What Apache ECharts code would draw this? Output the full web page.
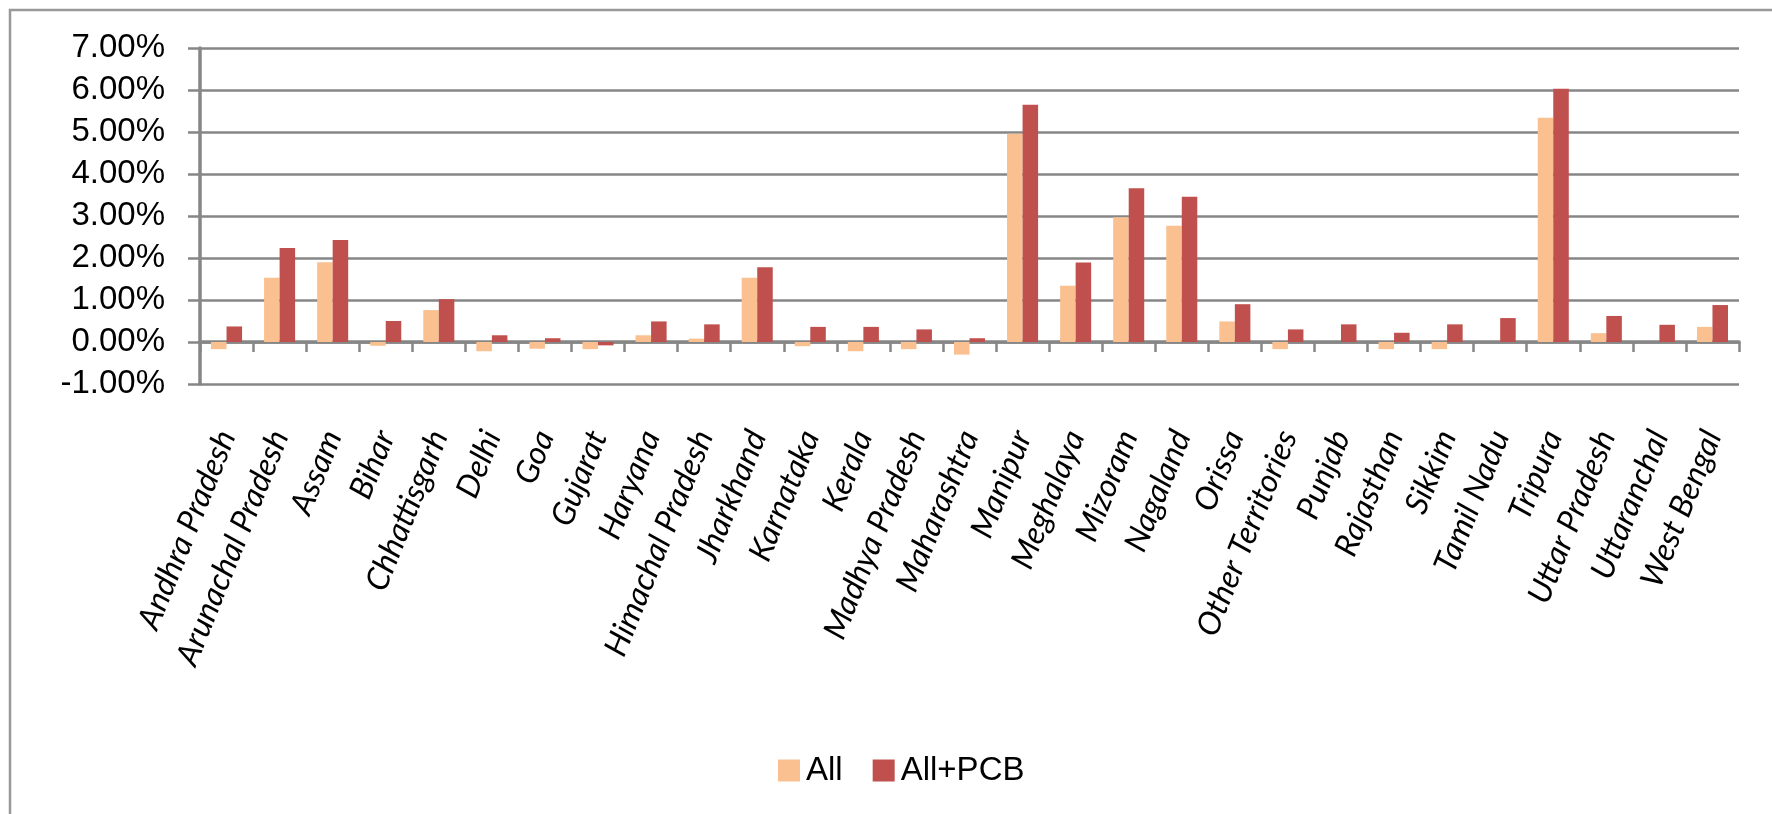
<!DOCTYPE html>
<html>
<head>
<meta charset="utf-8">
<script src="https://cdn.jsdelivr.net/npm/echarts@6/dist/echarts.min.js"></script>
<style>
  html, body { margin: 0; padding: 0; background: #fff; }
  #chart { width: 1772px; height: 814px; }
</style>
</head>
<body>
<div id="chart"></div>
<script>
// States / territories along the category axis
const categories = [
  'Andhra Pradesh', 'Arunachal Pradesh', 'Assam', 'Bihar', 'Chhattisgarh',
  'Delhi', 'Goa', 'Gujarat', 'Haryana', 'Himachal Pradesh', 'Jharkhand',
  'Karnataka', 'Kerala', 'Madhya Pradesh', 'Maharashtra', 'Manipur',
  'Meghalaya', 'Mizoram', 'Nagaland', 'Orissa', 'Other Territories',
  'Punjab', 'Rajasthan', 'Sikkim', 'Tamil Nadu', 'Tripura',
  'Uttar Pradesh', 'Uttaranchal', 'West Bengal'
];

// Values in percent
const allValues = [
  -0.17, 1.53, 1.90, -0.09, 0.76, -0.22, -0.16, -0.17, 0.16, 0.08, 1.53,
  -0.10, -0.22, -0.17, -0.30, 4.96, 1.34, 2.97, 2.77, 0.49, -0.17,
  0.00, -0.17, -0.17, 0.00, 5.34, 0.21, 0.00, 0.36
];
const pcbValues = [
  0.37, 2.24, 2.43, 0.50, 1.02, 0.16, 0.09, -0.08, 0.49, 0.42, 1.78,
  0.36, 0.36, 0.30, 0.09, 5.65, 1.89, 3.66, 3.46, 0.90, 0.30,
  0.42, 0.22, 0.42, 0.57, 6.03, 0.62, 0.41, 0.88
];

const seriesNames = ['All', 'All+PCB'];
const yMin = -1, yMax = 7, yStep = 1;

const GRAY = '#868686';
const chart = echarts.init(document.getElementById('chart'), null, { renderer: 'canvas' });

chart.setOption({
  backgroundColor: '#ffffff',
  animation: false,
  color: ['#FAC090', '#C0504D'],
  graphic: [{
    type: 'rect',
    silent: true,
    shape: { x: 10, y: 10, width: 1800, height: 900 },
    style: { fill: 'none', stroke: '#999999', lineWidth: 2.5 }
  }],
  legend: {
    data: seriesNames,
    left: 773,
    top: 749,
    icon: 'rect',
    itemWidth: 22,
    itemHeight: 22,
    itemGap: 30,
    textStyle: { fontFamily: 'Liberation Sans', fontSize: 33, color: '#000', padding: [0, 0, 0, 1] }
  },
  grid: { left: 200, right: 33, top: 48, bottom: 430, containLabel: false },
  xAxis: [{
    type: 'category',
    data: categories,
    position: 'bottom',
    axisLine: { onZero: true, lineStyle: { color: GRAY, width: 3.5 } },
    axisTick: { show: true, interval: 0, length: 10, lineStyle: { color: GRAY, width: 2.5 } },
    axisLabel: { show: false },
    splitLine: { show: false }
  }, {
    type: 'category',
    data: categories,
    position: 'bottom',
    axisLine: { show: false, onZero: false },
    axisTick: { show: false },
    axisLabel: {
      interval: 0,
      rotate: 68,
      margin: 48,
      fontFamily: 'Lato',
      fontStyle: 'italic',
      fontSize: 32,
      color: '#000'
    }
  }],
  yAxis: {
    type: 'value',
    min: yMin,
    max: yMax,
    interval: yStep,
    axisLine: { show: true, lineStyle: { color: GRAY, width: 3.5 } },
    axisTick: { show: true, length: 12, lineStyle: { color: GRAY, width: 2.5 } },
    splitLine: { lineStyle: { color: GRAY, width: 2.5 } },
    axisLabel: {
      margin: 35,
      fontFamily: 'Liberation Sans',
      fontSize: 33,
      color: '#000',
      formatter: v => v.toFixed(2) + '%'
    }
  },
  series: [{
    name: seriesNames[0],
    type: 'bar',
    xAxisIndex: 0,
    data: allValues,
    barGap: '0%',
    barCategoryGap: '41.5%'
  }, {
    name: seriesNames[1],
    type: 'bar',
    xAxisIndex: 0,
    data: pcbValues,
    barGap: '0%',
    barCategoryGap: '41.5%'
  }]
});
</script>
</body>
</html>
